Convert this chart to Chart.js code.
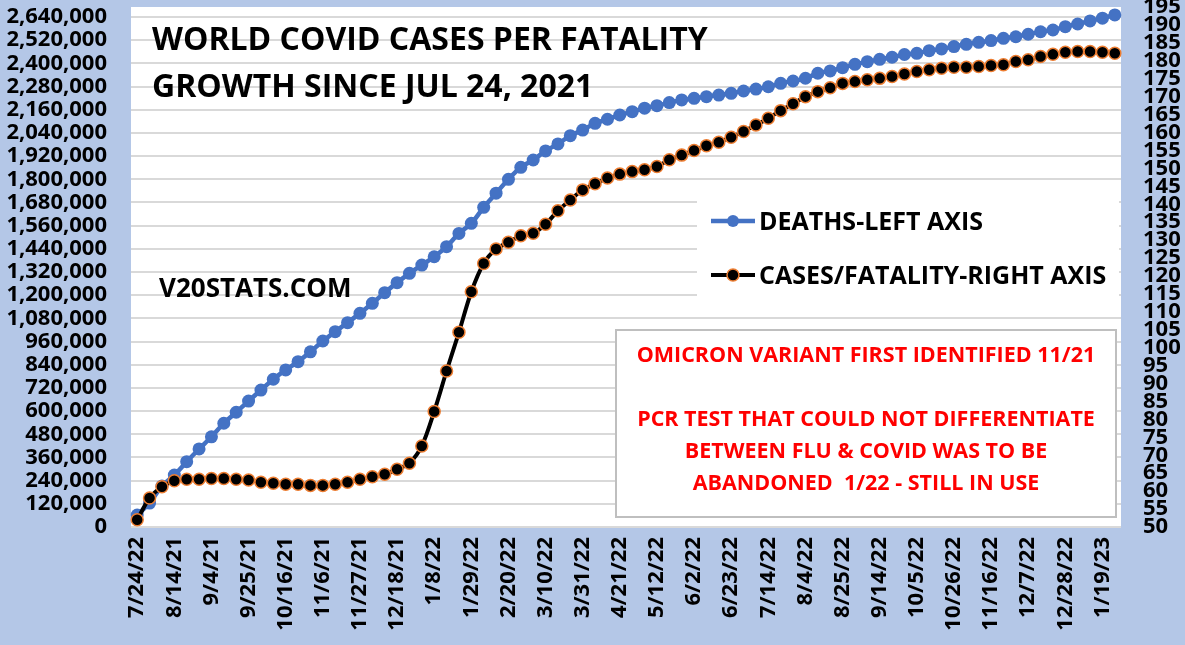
<!DOCTYPE html>
<html>
<head>
<meta charset="utf-8">
<script src="https://cdn.jsdelivr.net/npm/chart.js@4.4.1/dist/chart.umd.min.js"></script>
<style>
  html, body { margin: 0; padding: 0; background: #b4c7e7; }
  #wrap { width: 1185px; height: 645px; }
</style>
</head>
<body>
<div id="wrap"><canvas id="covidChart" width="1185" height="645"></canvas></div>
<script>
// weekly reporting dates (first label is shown as printed in the source chart)
const weeks = [
    '7/24/22', '7/31/21', '8/7/21', '8/14/21', '8/21/21', '8/28/21', '9/4/21', '9/11/21', '9/18/21', '9/25/21',
    '10/2/21', '10/9/21', '10/16/21', '10/23/21', '10/30/21', '11/6/21', '11/13/21', '11/20/21', '11/27/21', '12/4/21',
    '12/11/21', '12/18/21', '12/25/21', '1/1/22', '1/8/22', '1/15/22', '1/22/22', '1/29/22', '2/5/22', '2/12/22',
    '2/20/22', '2/26/22', '3/4/22', '3/10/22', '3/17/22', '3/24/22', '3/31/22', '4/7/22', '4/14/22', '4/21/22',
    '4/28/22', '5/5/22', '5/12/22', '5/19/22', '5/26/22', '6/2/22', '6/9/22', '6/16/22', '6/23/22', '6/30/22',
    '7/7/22', '7/14/22', '7/21/22', '7/28/22', '8/4/22', '8/11/22', '8/18/22', '8/25/22', '9/1/22', '9/8/22',
    '9/14/22', '9/21/22', '9/28/22', '10/5/22', '10/12/22', '10/19/22', '10/26/22', '11/2/22', '11/9/22', '11/16/22',
    '11/23/22', '11/30/22', '12/7/22', '12/14/22', '12/21/22', '12/28/22', '1/4/23', '1/11/23', '1/19/23', '1/26/23'
];

// deaths since Jul 24, 2021 (left axis)
const deaths = [
    62000, 124000, 212000, 269000, 338000, 404000, 467000, 537000, 594000, 652000,
    709000, 765000, 813000, 856000, 907000, 963000, 1011000, 1058000, 1106000, 1158000,
    1213000, 1265000, 1313000, 1356000, 1399000, 1451000, 1520000, 1572000, 1655000, 1728000,
    1800000, 1862000, 1900000, 1947000, 1983000, 2026000, 2055000, 2090000, 2111000, 2133000,
    2150000, 2168000, 2181000, 2197000, 2211000, 2219000, 2228000, 2236000, 2245000, 2257000,
    2267000, 2279000, 2297000, 2309000, 2323000, 2349000, 2361000, 2378000, 2395000, 2409000,
    2421000, 2432000, 2446000, 2452000, 2466000, 2475000, 2487000, 2499000, 2509000, 2518000,
    2530000, 2538000, 2551000, 2564000, 2573000, 2590000, 2604000, 2620000, 2634000, 2651000
];

// cases per fatality (right axis)
const casesPerFatality = [
    52, 58.1, 61.2, 62.9, 63.3, 63.3, 63.5, 63.5, 63.3, 63.1,
    62.5, 62.2, 61.9, 61.9, 61.6, 61.6, 61.9, 62.5, 63.3, 64.0,
    64.7, 66.1, 67.8, 72.6, 82.2, 93.5, 104.3, 115.6, 123.5, 127.5,
    129.4, 131.2, 131.9, 134.4, 138.2, 141.2, 144.0, 145.7, 147.3, 148.4,
    149.1, 149.6, 150.5, 152.4, 153.7, 155.0, 156.3, 157.3, 158.7, 160.3,
    162.1, 164.0, 166.1, 168.0, 170.0, 171.4, 172.5, 173.7, 174.2, 174.7,
    175.1, 175.6, 176.3, 177.0, 177.5, 177.9, 178.2, 178.2, 178.4, 178.7,
    178.9, 179.8, 180.3, 181.2, 181.8, 182.4, 182.6, 182.6, 182.4, 182.1
];

const leftTicks = [
    0, 120000, 240000, 360000, 480000, 600000, 720000, 840000, 960000, 1080000, 1200000, 1320000,
    1440000, 1560000, 1680000, 1800000, 1920000, 2040000, 2160000, 2280000, 2400000, 2520000, 2640000
];
const rightTicks = [
    50, 55, 60, 65, 70, 75, 80, 85, 90, 95, 100, 105, 110, 115, 120,
    125, 130, 135, 140, 145, 150, 155, 160, 165, 170, 175, 180, 185, 190, 195
];

const titleLines = ['WORLD COVID CASES PER FATALITY', 'GROWTH SINCE JUL 24, 2021'];
const siteLabel = 'V20STATS.COM';
const noteLines = [
    'OMICRON VARIANT FIRST IDENTIFIED 11/21',
    '',
    'PCR TEST THAT COULD NOT DIFFERENTIATE',
    'BETWEEN FLU & COVID WAS TO BE',
    'ABANDONED  1/22 - STILL IN USE'
];

const FONT = '"Open Sans", "DejaVu Sans", sans-serif';

// blue page + white plot area
const backdrop = {
    id: 'backdrop',
    beforeDraw(chart) {
        const { ctx, chartArea: a } = chart;
        ctx.save();
        ctx.fillStyle = '#b4c7e7';
        ctx.fillRect(0, 0, chart.width, chart.height);
        ctx.fillStyle = '#ffffff';
        ctx.fillRect(a.left, a.top, a.right - a.left, a.bottom - a.top);
        ctx.restore();
    }
};

function drawLegendItem(ctx, ds, y, text) {
    ctx.strokeStyle = ds.borderColor;
    ctx.lineWidth = ds.borderWidth;
    ctx.beginPath();
    ctx.moveTo(711, y);
    ctx.lineTo(755, y);
    ctx.stroke();
    ctx.beginPath();
    ctx.arc(733, y, 6, 0, Math.PI * 2);
    ctx.fillStyle = ds.pointBackgroundColor;
    ctx.fill();
    if (ds.pointBorderWidth) {
        ctx.lineWidth = ds.pointBorderWidth;
        ctx.strokeStyle = ds.pointBorderColor;
        ctx.stroke();
    }
    ctx.fillStyle = '#000000';
    ctx.font = 'bold 25px ' + FONT;
    ctx.textAlign = 'left';
    ctx.textBaseline = 'alphabetic';
    ctx.fillText(text, 759, y + 9);
}

// title, site name, legend and the note box
const annotations = {
    id: 'annotations',
    afterDatasetsDraw(chart) {
        const ctx = chart.ctx;
        ctx.save();

        ctx.fillStyle = '#000000';
        ctx.textAlign = 'left';
        ctx.textBaseline = 'alphabetic';
        ctx.font = 'bold 32px ' + FONT;
        ctx.fillText(titleLines[0], 152, 50);
        ctx.fillText(titleLines[1], 152, 97);

        ctx.font = 'bold 26px ' + FONT;
        ctx.fillText(siteLabel, 159, 297);

        // legend
        ctx.fillStyle = '#ffffff';
        ctx.fillRect(697, 190, 422, 115);
        const ds = chart.data.datasets;
        drawLegendItem(ctx, ds[0], 221, ds[0].label);
        drawLegendItem(ctx, ds[1], 275, ds[1].label);

        // note box
        ctx.fillStyle = '#ffffff';
        ctx.fillRect(616, 330, 500, 187);
        ctx.strokeStyle = '#bfbfbf';
        ctx.lineWidth = 2;
        ctx.strokeRect(616, 330, 500, 187);
        ctx.fillStyle = '#ff0000';
        ctx.font = 'bold 21.5px ' + FONT;
        ctx.textAlign = 'center';
        noteLines.forEach((line, i) => {
            if (line) ctx.fillText(line, 866, 362 + i * 32);
        });

        ctx.restore();
    }
};

const ctx = document.getElementById('covidChart').getContext('2d');
const covidChart = new Chart(ctx, {
    type: 'line',
    data: {
        labels: weeks,
        datasets: [{
            label: 'DEATHS-LEFT AXIS',
            data: deaths,
            yAxisID: 'y',
            borderColor: '#4472c4',
            backgroundColor: '#4472c4',
            borderWidth: 4.5,
            pointRadius: 6.5,
            pointBackgroundColor: '#4472c4',
            pointBorderColor: '#4472c4',
            pointBorderWidth: 0,
            tension: 0.3,
            order: 2
        }, {
            label: 'CASES/FATALITY-RIGHT AXIS',
            data: casesPerFatality,
            yAxisID: 'y1',
            borderColor: '#000000',
            backgroundColor: '#000000',
            borderWidth: 4,
            pointRadius: 6,
            pointBackgroundColor: '#000000',
            pointBorderColor: '#ed7d31',
            pointBorderWidth: 1.5,
            tension: 0.3,
            order: 1
        }]
    },
    options: {
        responsive: false,
        animation: false,
        devicePixelRatio: 1,
        layout: {
            autoPadding: false,
            padding: { top: 7, left: 0, right: 0, bottom: 0 }
        },
        plugins: {
            legend: { display: false },
            tooltip: { enabled: false }
        },
        scales: {
            x: {
                offset: true,
                grid: { display: false, drawTicks: false },
                border: { display: false },
                ticks: {
                    autoSkip: false,
                    minRotation: 90,
                    maxRotation: 90,
                    padding: 10,
                    color: '#000000',
                    font: { family: FONT, size: 22, weight: 'bold', lineHeight: 1 },
                    callback: function (value, index) {
                        return index % 3 === 0 ? weeks[index] : '';
                    }
                },
                afterFit(scale) {
                    scale.height = 118;
                    scale.paddingLeft = 0;
                    scale.paddingRight = 0;
                }
            },
            y: {
                position: 'left',
                min: 0,
                max: 2692000,
                afterBuildTicks(scale) {
                    scale.ticks = leftTicks.map(v => ({ value: v }));
                },
                grid: { color: '#d9d9d9', lineWidth: 2, drawTicks: false },
                border: { display: false },
                ticks: {
                    autoSkip: false,
                    padding: 24,
                    color: '#000000',
                    font: { family: FONT, size: 22, weight: 'bold', lineHeight: 1 },
                    callback: v => v.toLocaleString('en-US')
                },
                afterFit(scale) {
                    scale.width = 131;
                    scale.paddingTop = 0;
                    scale.paddingBottom = 0;
                }
            },
            y1: {
                position: 'right',
                min: 50,
                max: 195,
                afterBuildTicks(scale) {
                    scale.ticks = rightTicks.map(v => ({ value: v }));
                },
                grid: { display: false, drawTicks: false },
                border: { display: false },
                ticks: {
                    autoSkip: false,
                    padding: 22,
                    color: '#000000',
                    font: { family: FONT, size: 22, weight: 'bold', lineHeight: 1 }
                },
                afterFit(scale) {
                    scale.width = 64;
                    scale.paddingTop = 0;
                    scale.paddingBottom = 0;
                }
            }
        }
    },
    plugins: [backdrop, annotations]
});
</script>
</body>
</html>
